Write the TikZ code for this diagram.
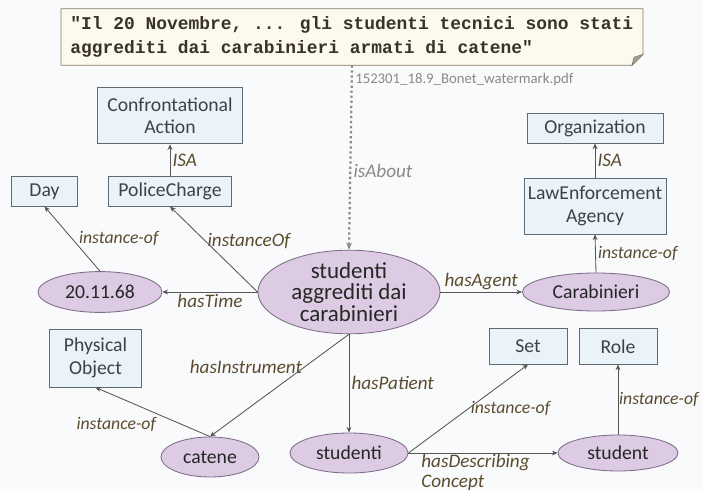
\documentclass[tikz,border=0pt]{standalone}
\usepackage{fontspec}
\setmainfont{Carlito}
\newfontfamily\quotefont{Liberation Mono}
\definecolor{pagebg}{HTML}{F9FAFB}
\definecolor{conceptfill}{HTML}{EAF4F8}
\definecolor{conceptline}{HTML}{5E6B74}
\definecolor{instfill}{HTML}{DCCBE2}
\definecolor{instline}{HTML}{7D6C88}
\definecolor{quotefill}{HTML}{FCFAEC}
\definecolor{quoteline}{HTML}{857A68}
\definecolor{quotetext}{HTML}{3A3226}
\definecolor{inktext}{HTML}{3C4248}
\definecolor{rellabel}{HTML}{5B4C2E}
\definecolor{edgeline}{HTML}{555555}
\definecolor{softgray}{HTML}{8A8A8A}
\usetikzlibrary{shapes.geometric, arrows.meta, calc}
\tikzset{
  concept/.style={
    draw=conceptline, fill=conceptfill, line width=0.6pt,
    font=\fontsize{14}{16}\selectfont, text=inktext, align=center,
    inner sep=2pt
  },
  inst/.style={
    ellipse, draw=instline, fill=instfill, line width=0.6pt,
    font=\fontsize{14}{16}\selectfont, text=black!85, align=center,
    inner sep=0pt
  },
  arr/.style={-{Stealth[length=4pt,width=3.5pt]}, line width=0.6pt, color=edgeline},
  darr/.style={-{Stealth[length=5pt,width=4pt]}, dotted, line width=1.6pt, color=softgray},
  lbl/.style={font=\fontsize{13.6}{14}\selectfont\itshape, text=rellabel, inner sep=1.5pt},
  ilbl/.style={lbl, font=\fontsize{12.6}{14}\selectfont\itshape},
}
\begin{document}
\begin{tikzpicture}[x=0.025cm, y=-0.025cm]
  \useasboundingbox (0,0) rectangle (703,491);
  \fill[pagebg] (0,0) rectangle (703,491);

  % source sentence
  \node[minimum width=14.53cm, minimum height=1.4cm, inner sep=0pt] (quote) at (352,37) {};
  \fill[quotefill, draw=quoteline, line width=0.6pt]
    (quote.north west) -- (quote.north east) -- ($(quote.south east)+(0,-11)$)
    -- ($(quote.south east)+(-11,0)$) -- (quote.south west) -- cycle;
  \fill[quoteline!70, draw=quoteline, line width=0.4pt]
    ($(quote.south east)+(0,-11)$) -- ($(quote.south east)+(-9,-8)$) -- ($(quote.south east)+(-11,0)$) -- cycle;
  \node[anchor=west, align=left, text=quotetext, inner sep=0pt,
        font=\quotefont\bfseries\fontsize{12.75}{17.5}\selectfont] (quotetxt) at (70,37)
    {"Il 20 Novembre, ... gli studenti tecnici sono stati\\aggrediti dai carabinieri armati di catene"};
  \node[anchor=west, text=softgray, font=\fontsize{10.5}{12}\selectfont, inner sep=0pt] (pdf) at (355,80)
    {152301\_18.9\_Bonet\_watermark.pdf};

  % concepts
  \node[concept, minimum width=3.63cm, minimum height=1.42cm] (conf) at (170,115.5) {Confrontational\\Action};
  \node[concept, minimum width=3.08cm, minimum height=0.73cm] (police) at (170,191.5) {PoliceCharge};
  \node[concept, minimum width=1.63cm, minimum height=0.73cm] (day) at (44.5,191.5) {Day};
  \node[concept, minimum width=3.40cm, minimum height=0.73cm] (org) at (595,128.5) {Organization};
  \node[concept, minimum width=3.55cm, minimum height=1.40cm] (lea) at (595,206) {LawEnforcement\\Agency};
  \node[concept, minimum width=2.28cm, minimum height=1.45cm] (phys) at (95.5,358) {Physical\\Object};
  \node[concept, minimum width=1.95cm, minimum height=0.88cm] (set) at (528,346.5) {Set};
  \node[concept, minimum width=1.95cm, minimum height=0.88cm] (role) at (618,346.5) {Role};

  % instances
  \node[inst, minimum width=4.55cm, minimum height=2.0cm, font=\fontsize{16.3}{15.3}\selectfont] (main) at (349,292)
    {studenti\\aggrediti dai\\carabinieri};
  \node[inst, minimum width=3.1cm, minimum height=1.02cm] (date) at (100,292) {20.11.68};
  \node[inst, minimum width=3.68cm, minimum height=0.95cm] (carab) at (596,292) {Carabinieri};
  \node[inst, minimum width=2.45cm, minimum height=1.0cm] (catene) at (210,457) {catene};
  \node[inst, minimum width=2.95cm, minimum height=1.0cm] (studenti) at (349,453) {studenti};
  \node[inst, minimum width=3.0cm, minimum height=0.9cm] (student) at (618,453) {student};

  % relations
  \draw[darr] (quote.south) -- node[pos=0.57, right, lbl, text=softgray] {isAbout} (main.north);
  \draw[arr] (police.north) -- node[midway, right, lbl] {ISA} (conf.south);
  \draw[arr] (date.north) -- node[midway, right=3pt, ilbl] {instance-of} (day.south);
  \draw[arr] (main.west) -- node[pos=0.6, anchor=west, lbl] {instanceOf} (police.south);
  \draw[arr] (main.west) -- node[midway, below, lbl] {hasTime} (date.east);
  \draw[arr] (main.east) -- node[midway, above, lbl] {hasAgent} (carab.west);
  \draw[arr] (lea.north) -- node[midway, right, lbl] {ISA} (org.south);
  \draw[arr] (carab.north) -- node[midway, right, ilbl] {instance-of} (lea.south);
  \draw[arr] (main.south) -- node[pos=0.32, anchor=east, lbl] {hasInstrument} (catene.north);
  \draw[arr] (catene.north) -- node[pos=0.45, anchor=north east, ilbl] {instance-of} (phys.south);
  \draw[arr] (main.south) -- node[midway, right, lbl] {hasPatient} (studenti.north);
  \draw[arr] (studenti.east) -- node[pos=0.5, anchor=west, ilbl] {instance-of} (set.south);
  \draw[arr] (studenti.east) -- node[pos=0.07, anchor=north west, yshift=1pt, lbl, align=left] {hasDescribing\\Concept} (student.west);
  \draw[arr] (student.north) -- node[midway, anchor=west, ilbl, inner sep=0.5pt] {instance-of} (role.south);
\end{tikzpicture}
\end{document}
